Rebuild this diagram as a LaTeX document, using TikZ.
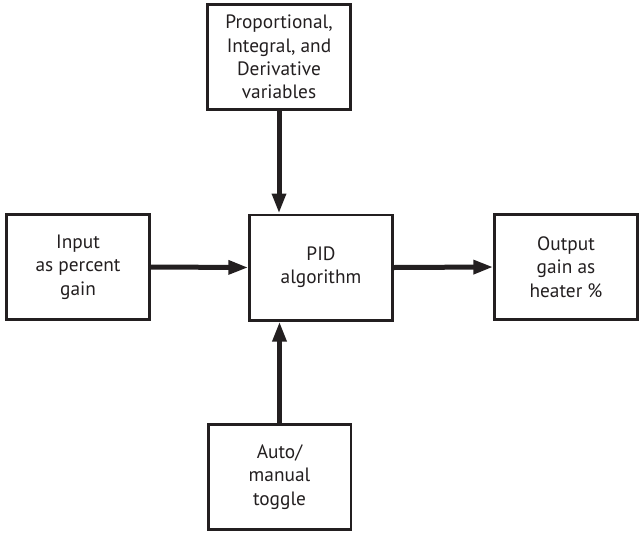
\documentclass[tikz,border=0pt]{standalone}
\usepackage{fontspec}
\setmainfont{PT Sans}
\usepackage{tikz}
\usetikzlibrary{arrows.meta, positioning, calc}
\definecolor{Ink}{HTML}{231F20}

\begin{document}
\begin{tikzpicture}[x=0.75pt, y=-0.75pt,
    box/.style={draw=Ink, line width=2pt, fill=white, text=Ink, align=center,
        minimum width=107pt, minimum height=79pt, inner sep=2pt,
        font=\fontsize{14.5}{17.5}\selectfont},
    flow/.style={draw=Ink, line width=3.75pt, -{Triangle[length=15pt, width=10pt]}}]
    % Frame
    \useasboundingbox (0, 0) rectangle (640, 533);
    
    % Controller in the middle
    \node[box] (pid) at (321, 267.5) {PID\\algorithm};
    
    % Boxes around it
    \node[box] (gains) at (279, 57) {Proportional,\\Integral, and\\Derivative\\variables};
    \node[box] (input) at (78, 267) {Input\\as percent\\gain};
    \node[box] (output) at (566, 267) {Output\\gain as\\heater \%};
    \node[box] (toggle) at (279.5, 477) {Auto/\\manual\\toggle};
    
    % Signal arrows into and out of the PID box
    \draw[flow] (gains.south) -- (gains.south |- pid.north);
    \draw[flow] (toggle.north) -- (toggle.north |- pid.south);
    \draw[flow] (input.east) -- (pid.west);
    \draw[flow] (pid.east) -- (output.west);
    
\end{tikzpicture}
\end{document}
